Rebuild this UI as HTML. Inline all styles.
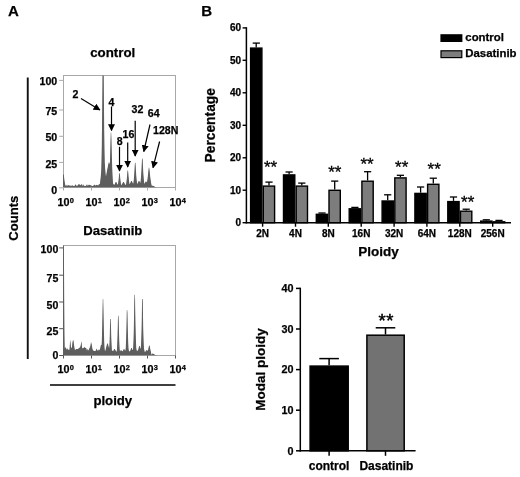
<!DOCTYPE html>
<html><head><meta charset="utf-8"><title>Figure</title>
<style>html,body{margin:0;padding:0;background:#fff}body{width:520px;height:477px;overflow:hidden;font-family:"Liberation Sans",sans-serif}svg{display:block;filter:grayscale(1)}</style></head>
<body>
<svg width="520" height="477" viewBox="0 0 520 477">
<defs><marker id="ah" viewBox="0 0 10 10" refX="9" refY="5" markerWidth="7" markerHeight="7" markerUnits="userSpaceOnUse" orient="auto"><path d="M0,0 L10,5 L0,10 Z" fill="#000"/></marker></defs>
<rect width="520" height="477" fill="#fff"/>
<g font-family="Liberation Sans, sans-serif" font-weight="bold" stroke="#000" stroke-width="0.25" fill="#000">
<text x="8" y="15.7" font-size="15">A</text>
<text x="201.2" y="15.8" font-size="15">B</text>
<text x="112.7" y="57.1" font-size="13.3" text-anchor="middle">control</text>
<text x="112.8" y="235.1" font-size="13.1" text-anchor="middle">Dasatinib</text>
<text x="112.8" y="405.4" font-size="13.2" text-anchor="middle">ploidy</text>
<text transform="translate(18.2,218.2) rotate(-90)" font-size="13.1" text-anchor="middle">Counts</text>
</g>
<rect x="26.8" y="77.5" width="1.9" height="281.5" fill="#111"/>
<rect x="50" y="384.2" width="125.5" height="1.6" fill="#111"/>
<rect x="63.5" y="75.5" width="112" height="112.0" fill="#fff" stroke="#a8a8a8" stroke-width="1"/>
<clipPath id="c75"><rect x="63" y="75.5" width="112.5" height="112.0"/></clipPath>
<path d="M63.0,187.5 L63.0,174.5 L63.2,174.5 L63.5,174.5 L63.8,174.5 L64.0,176.2 L64.2,178.4 L64.5,180.6 L64.8,182.2 L65.0,183.5 L65.2,184.7 L65.5,185.5 L65.8,185.7 L66.0,185.8 L66.2,185.8 L66.5,185.4 L66.8,185.0 L67.0,184.6 L67.2,185.1 L67.5,185.5 L67.8,186.0 L68.0,185.8 L68.2,185.4 L68.5,185.1 L68.8,185.0 L69.0,185.1 L69.2,185.3 L69.5,185.4 L69.8,185.7 L70.0,185.9 L70.2,186.1 L70.5,185.7 L70.8,185.3 L71.0,185.0 L71.2,185.4 L71.5,185.7 L71.8,186.1 L72.0,185.9 L72.2,185.6 L72.5,185.3 L72.8,185.3 L73.0,185.6 L73.2,185.9 L73.5,186.1 L73.8,186.1 L74.0,186.1 L74.2,186.0 L74.5,185.7 L74.8,185.5 L75.0,185.2 L75.2,184.9 L75.5,184.5 L75.8,184.2 L76.0,184.6 L76.2,185.2 L76.5,185.7 L76.8,185.9 L77.0,185.8 L77.2,185.8 L77.5,185.6 L77.8,185.3 L78.0,184.9 L78.2,184.6 L78.5,184.4 L78.8,184.1 L79.0,183.8 L79.2,184.1 L79.5,184.4 L79.8,184.7 L80.0,184.9 L80.2,185.1 L80.5,185.2 L80.8,185.0 L81.0,184.5 L81.2,184.0 L81.5,184.1 L81.8,184.8 L82.0,185.6 L82.2,186.0 L82.5,185.4 L82.8,184.7 L83.0,184.1 L83.2,184.5 L83.5,185.0 L83.8,185.5 L84.0,185.6 L84.2,185.8 L84.5,185.9 L84.8,185.9 L85.0,186.0 L85.2,186.0 L85.5,185.9 L85.8,185.8 L86.0,185.6 L86.2,185.4 L86.5,185.0 L86.8,184.6 L87.0,184.2 L87.2,184.7 L87.5,185.2 L87.8,185.7 L88.0,185.6 L88.2,185.2 L88.5,184.9 L88.8,184.8 L89.0,184.7 L89.2,184.7 L89.5,184.7 L89.8,184.9 L90.0,185.2 L90.2,185.3 L90.5,185.2 L90.8,185.0 L91.0,184.9 L91.2,185.3 L91.5,185.7 L91.8,186.1 L92.0,186.1 L92.2,186.1 L92.5,186.1 L92.8,186.1 L93.0,186.0 L93.2,185.8 L93.5,185.6 L93.8,185.2 L94.0,184.8 L94.2,184.6 L94.5,184.8 L94.8,185.0 L95.0,185.2 L95.2,185.3 L95.5,185.4 L95.8,185.5 L96.0,185.3 L96.2,185.1 L96.5,184.9 L96.8,184.8 L97.0,184.9 L97.2,185.1 L97.5,185.2 L97.8,185.3 L98.0,185.4 L98.2,185.4 L98.5,185.0 L98.8,184.5 L99.0,184.0 L99.2,184.1 L99.5,184.2 L99.8,184.2 L100.0,183.1 L100.2,181.0 L100.5,178.7 L100.8,176.2 L101.0,173.4 L101.2,169.4 L101.5,159.4 L101.8,145.6 L102.0,126.9 L102.2,102.3 L102.5,70.5 L102.8,30.0 L103.0,30.0 L103.2,30.0 L103.5,38.9 L103.8,77.5 L104.0,107.7 L104.2,131.1 L104.5,148.7 L104.8,161.7 L105.0,166.0 L105.2,169.2 L105.5,172.2 L105.8,175.1 L106.0,176.5 L106.2,175.0 L106.5,173.5 L106.8,172.1 L107.0,170.8 L107.2,169.5 L107.5,168.2 L107.8,166.9 L108.0,165.7 L108.2,164.5 L108.5,163.3 L108.8,162.6 L109.0,162.6 L109.2,162.6 L109.5,163.3 L109.8,164.5 L110.0,159.9 L110.2,150.7 L110.5,139.8 L110.8,132.5 L111.0,132.5 L111.2,132.5 L111.5,139.8 L111.8,150.7 L112.0,159.9 L112.2,167.7 L112.5,174.0 L112.8,178.9 L113.0,182.6 L113.2,184.0 L113.5,184.0 L113.8,184.4 L114.0,184.7 L114.2,185.0 L114.5,184.5 L114.8,184.0 L115.0,183.4 L115.2,182.9 L115.5,182.3 L115.8,182.0 L116.0,182.0 L116.2,182.0 L116.5,182.3 L116.8,182.9 L117.0,183.4 L117.2,184.0 L117.5,184.5 L117.8,184.4 L118.0,184.0 L118.2,182.3 L118.5,180.3 L118.8,177.9 L119.0,175.1 L119.2,173.2 L119.5,173.2 L119.8,173.2 L120.0,175.1 L120.2,177.9 L120.5,180.3 L120.8,182.3 L121.0,184.0 L121.2,185.3 L121.5,185.0 L121.8,184.6 L122.0,184.1 L122.2,183.7 L122.5,183.2 L122.8,182.7 L123.0,182.3 L123.2,182.0 L123.5,182.0 L123.8,182.0 L124.0,182.3 L124.2,182.7 L124.5,183.2 L124.8,183.7 L125.0,184.1 L125.2,184.6 L125.5,185.0 L125.8,185.0 L126.0,184.4 L126.2,183.0 L126.5,181.2 L126.8,179.0 L127.0,176.4 L127.2,173.3 L127.5,170.5 L127.8,170.5 L128.0,170.5 L128.2,171.9 L128.5,175.2 L128.8,178.0 L129.0,180.4 L129.2,182.3 L129.5,183.9 L129.8,184.0 L130.0,183.5 L130.2,182.9 L130.5,182.4 L130.8,181.9 L131.0,181.3 L131.2,181.0 L131.5,181.0 L131.8,181.0 L132.0,181.3 L132.2,181.9 L132.5,182.4 L132.8,182.9 L133.0,183.5 L133.2,183.8 L133.5,182.1 L133.8,179.8 L134.0,177.0 L134.2,173.6 L134.5,169.6 L134.8,164.8 L135.0,162.7 L135.2,162.7 L135.5,162.7 L135.8,166.8 L136.0,171.3 L136.2,175.1 L136.5,178.2 L136.8,180.8 L137.0,182.8 L137.2,184.0 L137.5,183.5 L137.8,182.9 L138.0,182.4 L138.2,181.9 L138.5,181.3 L138.8,181.0 L139.0,181.0 L139.2,181.0 L139.5,181.3 L139.8,181.9 L140.0,182.4 L140.2,182.9 L140.5,181.9 L140.8,179.6 L141.0,176.6 L141.2,173.0 L141.5,168.6 L141.8,163.3 L142.0,158.5 L142.2,158.5 L142.5,158.5 L142.8,161.0 L143.0,166.6 L143.2,171.3 L143.5,175.3 L143.8,178.5 L144.0,181.1 L144.2,183.1 L144.5,183.8 L144.8,183.3 L145.0,182.8 L145.2,182.3 L145.5,181.8 L145.8,181.5 L146.0,181.5 L146.2,181.5 L146.5,181.8 L146.8,182.3 L147.0,182.3 L147.2,180.6 L147.5,178.8 L147.8,176.8 L148.0,174.5 L148.2,172.1 L148.5,169.4 L148.8,167.7 L149.0,167.7 L149.2,167.7 L149.5,169.4 L149.8,172.1 L150.0,174.5 L150.2,176.8 L150.5,178.8 L150.8,180.6 L151.0,182.3 L151.2,183.6 L151.5,184.8 L151.8,185.7 L152.0,185.8 L152.2,185.8 L152.5,185.8 L152.8,185.8 L153.0,185.8 L153.2,185.8 L153.5,185.9 L153.8,186.1 L154.0,186.3 L154.2,186.4 L154.5,186.6 L154.8,186.7 L155.0,186.9 L155.2,187.0 L155.5,187.1 L155.8,187.2 L156.0,187.3 L156.0,187.5 Z" fill="#5e5e5e" clip-path="url(#c75)"/>
<line x1="59.2" x2="63.5" y1="187.8" y2="187.8" stroke="#aaa" stroke-width="1"/>
<text x="57.2" y="193.6" font-size="10.6" text-anchor="end" font-family="Liberation Sans, sans-serif" font-weight="bold" stroke="#000" stroke-width="0.25">0</text>
<line x1="59.2" x2="63.5" y1="162.4" y2="162.4" stroke="#aaa" stroke-width="1"/>
<text x="57.2" y="167.5" font-size="10.6" text-anchor="end" font-family="Liberation Sans, sans-serif" font-weight="bold" stroke="#000" stroke-width="0.25">25</text>
<line x1="59.2" x2="63.5" y1="136.3" y2="136.3" stroke="#aaa" stroke-width="1"/>
<text x="57.2" y="141.2" font-size="10.6" text-anchor="end" font-family="Liberation Sans, sans-serif" font-weight="bold" stroke="#000" stroke-width="0.25">50</text>
<line x1="59.2" x2="63.5" y1="110.0" y2="110.0" stroke="#aaa" stroke-width="1"/>
<text x="57.2" y="114.7" font-size="10.6" text-anchor="end" font-family="Liberation Sans, sans-serif" font-weight="bold" stroke="#000" stroke-width="0.25">75</text>
<line x1="59.2" x2="63.5" y1="80.4" y2="80.4" stroke="#aaa" stroke-width="1"/>
<text x="57.2" y="85.4" font-size="10.6" text-anchor="end" font-family="Liberation Sans, sans-serif" font-weight="bold" stroke="#000" stroke-width="0.25">100</text>
<line x1="63.5" x2="63.5" y1="187.5" y2="190.5" stroke="#aaa" stroke-width="1"/>
<text x="57.4" y="206.0" font-size="10.8" font-family="Liberation Sans, sans-serif" font-weight="bold" stroke="#000" stroke-width="0.25">10<tspan font-size="7.4" dy="-3.1" dx="0.4">0</tspan></text>
<line x1="91.5" x2="91.5" y1="187.5" y2="190.5" stroke="#aaa" stroke-width="1"/>
<text x="85.4" y="206.0" font-size="10.8" font-family="Liberation Sans, sans-serif" font-weight="bold" stroke="#000" stroke-width="0.25">10<tspan font-size="7.4" dy="-3.1" dx="0.4">1</tspan></text>
<line x1="119.5" x2="119.5" y1="187.5" y2="190.5" stroke="#aaa" stroke-width="1"/>
<text x="113.4" y="206.0" font-size="10.8" font-family="Liberation Sans, sans-serif" font-weight="bold" stroke="#000" stroke-width="0.25">10<tspan font-size="7.4" dy="-3.1" dx="0.4">2</tspan></text>
<line x1="147.5" x2="147.5" y1="187.5" y2="190.5" stroke="#aaa" stroke-width="1"/>
<text x="141.4" y="206.0" font-size="10.8" font-family="Liberation Sans, sans-serif" font-weight="bold" stroke="#000" stroke-width="0.25">10<tspan font-size="7.4" dy="-3.1" dx="0.4">3</tspan></text>
<line x1="175.5" x2="175.5" y1="187.5" y2="190.5" stroke="#aaa" stroke-width="1"/>
<text x="169.4" y="206.0" font-size="10.8" font-family="Liberation Sans, sans-serif" font-weight="bold" stroke="#000" stroke-width="0.25">10<tspan font-size="7.4" dy="-3.1" dx="0.4">4</tspan></text>
<rect x="63.5" y="245.5" width="112" height="110.0" fill="#fff" stroke="#a8a8a8" stroke-width="1"/>
<clipPath id="c245"><rect x="63" y="245.5" width="112.5" height="110.0"/></clipPath>
<path d="M63.0,355.5 L63.0,235.5 L63.2,235.5 L63.5,235.5 L63.8,235.5 L64.0,263.8 L64.2,299.2 L64.5,334.5 L64.8,348.4 L65.0,347.8 L65.2,347.3 L65.5,347.2 L65.8,347.7 L66.0,348.1 L66.2,348.6 L66.5,349.0 L66.8,349.4 L67.0,349.7 L67.2,349.2 L67.5,348.8 L67.8,348.3 L68.0,348.7 L68.2,349.3 L68.5,349.9 L68.8,350.1 L69.0,350.1 L69.2,350.2 L69.5,348.8 L69.8,345.3 L70.0,341.8 L70.2,339.5 L70.5,342.0 L70.8,344.6 L71.0,347.1 L71.2,347.4 L71.5,347.8 L71.8,348.2 L72.0,346.5 L72.2,344.2 L72.5,341.9 L72.8,340.8 L73.0,340.4 L73.2,340.0 L73.5,340.5 L73.8,342.5 L74.0,344.4 L74.2,346.3 L74.5,347.7 L74.8,349.1 L75.0,350.6 L75.2,350.1 L75.5,349.7 L75.8,349.3 L76.0,349.1 L76.2,349.0 L76.5,349.0 L76.8,349.0 L77.0,349.0 L77.2,349.0 L77.5,349.1 L77.8,349.1 L78.0,349.2 L78.2,349.1 L78.5,348.5 L78.8,348.0 L79.0,347.4 L79.2,347.6 L79.5,347.8 L79.8,348.0 L80.0,347.4 L80.2,346.8 L80.5,346.1 L80.8,344.9 L81.0,343.3 L81.2,341.8 L81.5,341.8 L81.8,344.2 L82.0,346.5 L82.2,348.3 L82.5,348.3 L82.8,348.2 L83.0,348.1 L83.2,348.0 L83.5,347.9 L83.8,347.8 L84.0,347.6 L84.2,347.3 L84.5,347.1 L84.8,347.2 L85.0,347.5 L85.2,347.8 L85.5,348.0 L85.8,348.0 L86.0,347.9 L86.2,348.1 L86.5,349.0 L86.8,349.9 L87.0,350.8 L87.2,350.1 L87.5,349.4 L87.8,348.7 L88.0,349.1 L88.2,349.8 L88.5,350.5 L88.8,350.3 L89.0,349.4 L89.2,348.6 L89.5,347.9 L89.8,347.5 L90.0,347.1 L90.2,346.5 L90.5,344.9 L90.8,343.4 L91.0,341.8 L91.2,342.7 L91.5,343.6 L91.8,344.5 L92.0,345.9 L92.2,347.4 L92.5,348.9 L92.8,349.7 L93.0,350.1 L93.2,350.4 L93.5,350.7 L93.8,350.7 L94.0,350.8 L94.2,350.9 L94.5,350.9 L94.8,350.9 L95.0,350.9 L95.2,350.9 L95.5,350.8 L95.8,350.7 L96.0,350.1 L96.2,349.4 L96.5,348.7 L96.8,348.8 L97.0,349.5 L97.2,350.1 L97.5,350.5 L97.8,350.6 L98.0,350.7 L98.2,350.6 L98.5,350.1 L98.8,349.5 L99.0,348.9 L99.2,349.6 L99.5,350.3 L99.8,350.2 L100.0,349.1 L100.2,347.9 L100.5,346.7 L100.8,345.5 L101.0,345.0 L101.2,345.0 L101.5,345.0 L101.8,341.9 L102.0,334.2 L102.2,323.6 L102.5,309.5 L102.8,299.0 L103.0,299.0 L103.2,299.0 L103.5,309.5 L103.8,323.6 L104.0,334.2 L104.2,341.9 L104.5,347.3 L104.8,349.7 L105.0,350.9 L105.2,351.1 L105.5,350.1 L105.8,349.1 L106.0,348.1 L106.2,347.1 L106.5,346.1 L106.8,345.1 L107.0,344.1 L107.2,343.5 L107.5,343.5 L107.8,343.5 L108.0,344.1 L108.2,345.1 L108.5,346.1 L108.8,347.1 L109.0,348.1 L109.2,347.6 L109.5,342.5 L109.8,335.5 L110.0,326.0 L110.2,319.0 L110.5,319.0 L110.8,319.0 L111.0,326.0 L111.2,335.5 L111.5,342.5 L111.8,347.6 L112.0,350.9 L112.2,350.7 L112.5,350.5 L112.8,350.7 L113.0,351.2 L113.2,350.9 L113.5,350.4 L113.8,349.9 L114.0,349.3 L114.2,349.0 L114.5,349.0 L114.8,349.0 L115.0,349.3 L115.2,349.9 L115.5,350.4 L115.8,350.5 L116.0,350.9 L116.2,351.3 L116.5,351.8 L116.8,351.2 L117.0,347.8 L117.2,342.7 L117.5,335.5 L117.8,325.7 L118.0,315.8 L118.2,315.8 L118.5,315.8 L118.8,321.0 L119.0,331.9 L119.2,340.1 L119.5,346.0 L119.8,350.0 L120.0,351.6 L120.2,351.0 L120.5,350.4 L120.8,350.2 L121.0,350.3 L121.2,350.3 L121.5,350.4 L121.8,350.6 L122.0,350.9 L122.2,351.1 L122.5,351.2 L122.8,351.3 L123.0,350.7 L123.2,350.0 L123.5,349.4 L123.8,349.0 L124.0,349.0 L124.2,349.0 L124.5,349.4 L124.8,350.0 L125.0,350.7 L125.2,350.6 L125.5,350.0 L125.8,347.0 L126.0,341.6 L126.2,334.0 L126.5,323.6 L126.8,310.0 L127.0,310.0 L127.2,310.0 L127.5,313.0 L127.8,325.9 L128.0,335.7 L128.2,342.8 L128.5,347.9 L128.8,350.2 L129.0,350.8 L129.2,350.9 L129.5,351.2 L129.8,351.4 L130.0,351.4 L130.2,350.7 L130.5,349.9 L130.8,349.2 L131.0,348.4 L131.2,348.0 L131.5,348.0 L131.8,348.0 L132.0,348.4 L132.2,349.2 L132.5,349.9 L132.8,350.1 L133.0,349.0 L133.2,345.7 L133.5,339.5 L133.8,330.6 L134.0,318.5 L134.2,302.5 L134.5,294.8 L134.8,294.8 L135.0,294.8 L135.2,309.4 L135.5,323.8 L135.8,334.5 L136.0,342.3 L136.2,347.6 L136.5,349.5 L136.8,350.6 L137.0,351.1 L137.2,350.5 L137.5,350.5 L137.8,351.0 L138.0,350.4 L138.2,349.4 L138.5,348.5 L138.8,347.5 L139.0,346.6 L139.2,346.0 L139.5,346.0 L139.8,346.0 L140.0,346.6 L140.2,347.5 L140.5,348.5 L140.8,348.8 L141.0,345.4 L141.2,339.2 L141.5,330.4 L141.8,318.4 L142.0,302.7 L142.2,299.0 L142.5,299.0 L142.8,299.0 L143.0,315.6 L143.2,328.3 L143.5,337.6 L143.8,344.3 L144.0,348.6 L144.2,349.7 L144.5,350.8 L144.8,351.9 L145.0,351.9 L145.2,351.8 L145.5,351.5 L145.8,351.1 L146.0,350.6 L146.2,350.3 L146.5,350.2 L146.8,350.2 L147.0,350.1 L147.2,350.3 L147.5,350.6 L147.8,350.9 L148.0,350.5 L148.2,349.2 L148.5,348.0 L148.8,346.7 L149.0,345.6 L149.2,345.6 L149.5,345.6 L149.8,346.1 L150.0,347.5 L150.2,348.7 L150.5,350.0 L150.8,351.2 L151.0,352.3 L151.2,353.4 L151.5,354.4 L151.8,354.5 L152.0,354.2 L152.2,353.8 L152.5,353.4 L152.8,353.4 L153.0,353.6 L153.2,353.8 L153.5,354.0 L153.8,354.0 L154.0,354.0 L154.2,354.1 L154.5,354.4 L154.8,354.8 L155.0,355.1 L155.2,355.1 L155.5,355.1 L155.8,355.0 L156.0,355.1 L156.2,355.1 L156.5,355.2 L156.8,355.3 L157.0,355.4 L157.0,355.5 Z" fill="#5e5e5e" clip-path="url(#c245)"/>
<line x1="59.2" x2="63.5" y1="355.5" y2="355.5" stroke="#555" stroke-width="1"/>
<text x="58.3" y="359.0" font-size="10.6" text-anchor="end" font-family="Liberation Sans, sans-serif" font-weight="bold" stroke="#000" stroke-width="0.25">0</text>
<line x1="59.2" x2="63.5" y1="328.7" y2="328.7" stroke="#555" stroke-width="1"/>
<text x="58.3" y="335.4" font-size="10.6" text-anchor="end" font-family="Liberation Sans, sans-serif" font-weight="bold" stroke="#000" stroke-width="0.25">25</text>
<line x1="59.2" x2="63.5" y1="302.0" y2="302.0" stroke="#555" stroke-width="1"/>
<text x="58.3" y="308.6" font-size="10.6" text-anchor="end" font-family="Liberation Sans, sans-serif" font-weight="bold" stroke="#000" stroke-width="0.25">50</text>
<line x1="59.2" x2="63.5" y1="275.2" y2="275.2" stroke="#555" stroke-width="1"/>
<text x="58.3" y="282.3" font-size="10.6" text-anchor="end" font-family="Liberation Sans, sans-serif" font-weight="bold" stroke="#000" stroke-width="0.25">75</text>
<line x1="59.2" x2="63.5" y1="247.9" y2="247.9" stroke="#555" stroke-width="1"/>
<text x="58.3" y="253.4" font-size="10.6" text-anchor="end" font-family="Liberation Sans, sans-serif" font-weight="bold" stroke="#000" stroke-width="0.25">100</text>
<line x1="63.5" x2="63.5" y1="355.5" y2="358.5" stroke="#555" stroke-width="1"/>
<text x="57.4" y="373.4" font-size="10.8" font-family="Liberation Sans, sans-serif" font-weight="bold" stroke="#000" stroke-width="0.25">10<tspan font-size="7.4" dy="-3.1" dx="0.4">0</tspan></text>
<line x1="91.5" x2="91.5" y1="355.5" y2="358.5" stroke="#555" stroke-width="1"/>
<text x="85.4" y="373.4" font-size="10.8" font-family="Liberation Sans, sans-serif" font-weight="bold" stroke="#000" stroke-width="0.25">10<tspan font-size="7.4" dy="-3.1" dx="0.4">1</tspan></text>
<line x1="119.5" x2="119.5" y1="355.5" y2="358.5" stroke="#555" stroke-width="1"/>
<text x="113.4" y="373.4" font-size="10.8" font-family="Liberation Sans, sans-serif" font-weight="bold" stroke="#000" stroke-width="0.25">10<tspan font-size="7.4" dy="-3.1" dx="0.4">2</tspan></text>
<line x1="147.5" x2="147.5" y1="355.5" y2="358.5" stroke="#555" stroke-width="1"/>
<text x="141.4" y="373.4" font-size="10.8" font-family="Liberation Sans, sans-serif" font-weight="bold" stroke="#000" stroke-width="0.25">10<tspan font-size="7.4" dy="-3.1" dx="0.4">3</tspan></text>
<line x1="175.5" x2="175.5" y1="355.5" y2="358.5" stroke="#555" stroke-width="1"/>
<text x="169.4" y="373.4" font-size="10.8" font-family="Liberation Sans, sans-serif" font-weight="bold" stroke="#000" stroke-width="0.25">10<tspan font-size="7.4" dy="-3.1" dx="0.4">4</tspan></text>
<text x="72.6" y="98.1" font-size="10.6" font-family="Liberation Sans, sans-serif" font-weight="bold" stroke="#000" stroke-width="0.25">2</text>
<line x1="81" y1="98.5" x2="99.9" y2="110" stroke="#000" stroke-width="1.2" marker-end="url(#ah)"/>
<text x="108.4" y="105.5" font-size="10.6" font-family="Liberation Sans, sans-serif" font-weight="bold" stroke="#000" stroke-width="0.25">4</text>
<line x1="111.5" y1="106.5" x2="111.5" y2="130.5" stroke="#000" stroke-width="1.2" marker-end="url(#ah)"/>
<text x="116.8" y="144.5" font-size="10.6" font-family="Liberation Sans, sans-serif" font-weight="bold" stroke="#000" stroke-width="0.25">8</text>
<line x1="119.5" y1="146.8" x2="119.5" y2="171" stroke="#000" stroke-width="1.2" marker-end="url(#ah)"/>
<text x="122.5" y="138.2" font-size="10.6" font-family="Liberation Sans, sans-serif" font-weight="bold" stroke="#000" stroke-width="0.25">16</text>
<line x1="127.7" y1="142.6" x2="127.7" y2="167" stroke="#000" stroke-width="1.2" marker-end="url(#ah)"/>
<text x="131.5" y="112.9" font-size="10.6" font-family="Liberation Sans, sans-serif" font-weight="bold" stroke="#000" stroke-width="0.25">32</text>
<line x1="135.2" y1="120.8" x2="135.2" y2="156" stroke="#000" stroke-width="1.2" marker-end="url(#ah)"/>
<text x="147.8" y="117.1" font-size="10.6" font-family="Liberation Sans, sans-serif" font-weight="bold" stroke="#000" stroke-width="0.25">64</text>
<line x1="150" y1="124.5" x2="143.8" y2="151.5" stroke="#000" stroke-width="1.2" marker-end="url(#ah)"/>
<text x="153" y="133.9" font-size="10.6" font-family="Liberation Sans, sans-serif" font-weight="bold" stroke="#000" stroke-width="0.25">128N</text>
<line x1="159.6" y1="141.5" x2="153" y2="167.7" stroke="#000" stroke-width="1.2" marker-end="url(#ah)"/>
<g font-family="Liberation Sans, sans-serif" font-weight="bold" stroke="#000" stroke-width="0.25" fill="#000" font-size="10">
<line x1="242.6" x2="246.4" y1="222.7" y2="222.7" stroke="#000" stroke-width="1.4"/>
<text x="241.1" y="226.1" text-anchor="end">0</text>
<line x1="242.6" x2="246.4" y1="190.2" y2="190.2" stroke="#000" stroke-width="1.4"/>
<text x="241.1" y="193.6" text-anchor="end">10</text>
<line x1="242.6" x2="246.4" y1="157.8" y2="157.8" stroke="#000" stroke-width="1.4"/>
<text x="241.1" y="161.2" text-anchor="end">20</text>
<line x1="242.6" x2="246.4" y1="125.3" y2="125.3" stroke="#000" stroke-width="1.4"/>
<text x="241.1" y="128.7" text-anchor="end">30</text>
<line x1="242.6" x2="246.4" y1="92.8" y2="92.8" stroke="#000" stroke-width="1.4"/>
<text x="241.1" y="96.2" text-anchor="end">40</text>
<line x1="242.6" x2="246.4" y1="60.3" y2="60.3" stroke="#000" stroke-width="1.4"/>
<text x="241.1" y="63.7" text-anchor="end">50</text>
<line x1="242.6" x2="246.4" y1="27.9" y2="27.9" stroke="#000" stroke-width="1.4"/>
<text x="241.1" y="31.3" text-anchor="end">60</text>
</g>
<line x1="246.4" x2="246.4" y1="27.2" y2="223.39999999999998" stroke="#000" stroke-width="1.5"/>
<line x1="245.70000000000002" x2="511" y1="222.7" y2="222.7" stroke="#000" stroke-width="1.5"/>
<line x1="256.2" x2="256.2" y1="43.1" y2="47.4" stroke="#000" stroke-width="1.3"/>
<line x1="252.7" x2="259.9" y1="43.1" y2="43.1" stroke="#000" stroke-width="1.3"/>
<rect x="250.6" y="48.1" width="11.3" height="174.6" fill="#000" stroke="#000" stroke-width="1.4"/>
<line x1="269.0" x2="269.0" y1="182.1" y2="185.4" stroke="#000" stroke-width="1.3"/>
<line x1="265.4" x2="272.6" y1="182.1" y2="182.1" stroke="#000" stroke-width="1.3"/>
<rect x="263.3" y="186.1" width="11.3" height="36.6" fill="#7d7d7d" stroke="#000" stroke-width="1.4"/>
<line x1="262.6" x2="262.6" y1="222.7" y2="226.7" stroke="#000" stroke-width="1.4"/>
<text x="262.6" y="237" font-size="10" text-anchor="middle" font-family="Liberation Sans, sans-serif" font-weight="bold" stroke="#000" stroke-width="0.25">2N</text>
<text x="270.6" y="172.8" font-size="17" text-anchor="middle" font-family="Liberation Sans, sans-serif" stroke="#000" stroke-width="0.3">**</text>
<line x1="289.1" x2="289.1" y1="172.0" y2="174.2" stroke="#000" stroke-width="1.3"/>
<line x1="285.5" x2="292.7" y1="172.0" y2="172.0" stroke="#000" stroke-width="1.3"/>
<rect x="283.5" y="174.9" width="11.3" height="47.8" fill="#000" stroke="#000" stroke-width="1.4"/>
<line x1="301.8" x2="301.8" y1="183.1" y2="185.4" stroke="#000" stroke-width="1.3"/>
<line x1="298.2" x2="305.4" y1="183.1" y2="183.1" stroke="#000" stroke-width="1.3"/>
<rect x="296.2" y="186.1" width="11.3" height="36.6" fill="#7d7d7d" stroke="#000" stroke-width="1.4"/>
<line x1="295.5" x2="295.5" y1="222.7" y2="226.7" stroke="#000" stroke-width="1.4"/>
<text x="295.5" y="237" font-size="10" text-anchor="middle" font-family="Liberation Sans, sans-serif" font-weight="bold" stroke="#000" stroke-width="0.25">4N</text>
<line x1="322.0" x2="322.0" y1="213.0" y2="213.6" stroke="#000" stroke-width="1.3"/>
<line x1="318.4" x2="325.6" y1="213.0" y2="213.0" stroke="#000" stroke-width="1.3"/>
<rect x="316.3" y="214.3" width="11.3" height="8.4" fill="#000" stroke="#000" stroke-width="1.4"/>
<line x1="334.7" x2="334.7" y1="181.1" y2="189.6" stroke="#000" stroke-width="1.3"/>
<line x1="331.1" x2="338.3" y1="181.1" y2="181.1" stroke="#000" stroke-width="1.3"/>
<rect x="329.0" y="190.3" width="11.3" height="32.4" fill="#7d7d7d" stroke="#000" stroke-width="1.4"/>
<line x1="328.3" x2="328.3" y1="222.7" y2="226.7" stroke="#000" stroke-width="1.4"/>
<text x="328.3" y="237" font-size="10" text-anchor="middle" font-family="Liberation Sans, sans-serif" font-weight="bold" stroke="#000" stroke-width="0.25">8N</text>
<text x="334.8" y="178.3" font-size="17" text-anchor="middle" font-family="Liberation Sans, sans-serif" stroke="#000" stroke-width="0.3">**</text>
<line x1="354.9" x2="354.9" y1="207.4" y2="208.1" stroke="#000" stroke-width="1.3"/>
<line x1="351.3" x2="358.5" y1="207.4" y2="207.4" stroke="#000" stroke-width="1.3"/>
<rect x="349.2" y="208.8" width="11.3" height="13.9" fill="#000" stroke="#000" stroke-width="1.4"/>
<line x1="367.6" x2="367.6" y1="171.7" y2="180.5" stroke="#000" stroke-width="1.3"/>
<line x1="364.0" x2="371.2" y1="171.7" y2="171.7" stroke="#000" stroke-width="1.3"/>
<rect x="361.9" y="181.2" width="11.3" height="41.5" fill="#7d7d7d" stroke="#000" stroke-width="1.4"/>
<line x1="361.2" x2="361.2" y1="222.7" y2="226.7" stroke="#000" stroke-width="1.4"/>
<text x="361.2" y="237" font-size="10" text-anchor="middle" font-family="Liberation Sans, sans-serif" font-weight="bold" stroke="#000" stroke-width="0.25">16N</text>
<text x="367.1" y="169.6" font-size="17" text-anchor="middle" font-family="Liberation Sans, sans-serif" stroke="#000" stroke-width="0.3">**</text>
<line x1="387.7" x2="387.7" y1="194.8" y2="200.3" stroke="#000" stroke-width="1.3"/>
<line x1="384.1" x2="391.3" y1="194.8" y2="194.8" stroke="#000" stroke-width="1.3"/>
<rect x="382.1" y="201.0" width="11.3" height="21.7" fill="#000" stroke="#000" stroke-width="1.4"/>
<line x1="400.4" x2="400.4" y1="175.3" y2="177.2" stroke="#000" stroke-width="1.3"/>
<line x1="396.8" x2="404.0" y1="175.3" y2="175.3" stroke="#000" stroke-width="1.3"/>
<rect x="394.8" y="177.9" width="11.3" height="44.8" fill="#7d7d7d" stroke="#000" stroke-width="1.4"/>
<line x1="394.1" x2="394.1" y1="222.7" y2="226.7" stroke="#000" stroke-width="1.4"/>
<text x="394.1" y="237" font-size="10" text-anchor="middle" font-family="Liberation Sans, sans-serif" font-weight="bold" stroke="#000" stroke-width="0.25">32N</text>
<text x="401.7" y="172.5" font-size="17" text-anchor="middle" font-family="Liberation Sans, sans-serif" stroke="#000" stroke-width="0.3">**</text>
<line x1="420.6" x2="420.6" y1="187.0" y2="192.7" stroke="#000" stroke-width="1.3"/>
<line x1="417.0" x2="424.2" y1="187.0" y2="187.0" stroke="#000" stroke-width="1.3"/>
<rect x="414.9" y="193.4" width="11.3" height="29.3" fill="#000" stroke="#000" stroke-width="1.4"/>
<line x1="433.3" x2="433.3" y1="178.2" y2="183.6" stroke="#000" stroke-width="1.3"/>
<line x1="429.7" x2="436.9" y1="178.2" y2="178.2" stroke="#000" stroke-width="1.3"/>
<rect x="427.6" y="184.3" width="11.3" height="38.4" fill="#7d7d7d" stroke="#000" stroke-width="1.4"/>
<line x1="426.9" x2="426.9" y1="222.7" y2="226.7" stroke="#000" stroke-width="1.4"/>
<text x="426.9" y="237" font-size="10" text-anchor="middle" font-family="Liberation Sans, sans-serif" font-weight="bold" stroke="#000" stroke-width="0.25">64N</text>
<text x="434.2" y="174.7" font-size="17" text-anchor="middle" font-family="Liberation Sans, sans-serif" stroke="#000" stroke-width="0.3">**</text>
<line x1="453.5" x2="453.5" y1="197.0" y2="200.9" stroke="#000" stroke-width="1.3"/>
<line x1="449.9" x2="457.1" y1="197.0" y2="197.0" stroke="#000" stroke-width="1.3"/>
<rect x="447.8" y="201.6" width="11.3" height="21.1" fill="#000" stroke="#000" stroke-width="1.4"/>
<line x1="466.2" x2="466.2" y1="209.2" y2="210.5" stroke="#000" stroke-width="1.3"/>
<line x1="462.6" x2="469.8" y1="209.2" y2="209.2" stroke="#000" stroke-width="1.3"/>
<rect x="460.5" y="211.2" width="11.3" height="11.5" fill="#7d7d7d" stroke="#000" stroke-width="1.4"/>
<line x1="459.8" x2="459.8" y1="222.7" y2="226.7" stroke="#000" stroke-width="1.4"/>
<text x="459.8" y="237" font-size="10" text-anchor="middle" font-family="Liberation Sans, sans-serif" font-weight="bold" stroke="#000" stroke-width="0.25">128N</text>
<text x="467.7" y="208.3" font-size="17" text-anchor="middle" font-family="Liberation Sans, sans-serif" stroke="#000" stroke-width="0.3">**</text>
<line x1="486.3" x2="486.3" y1="219.8" y2="220.4" stroke="#000" stroke-width="1.3"/>
<line x1="482.7" x2="489.9" y1="219.8" y2="219.8" stroke="#000" stroke-width="1.3"/>
<rect x="480.7" y="221.1" width="11.3" height="1.6" fill="#000" stroke="#000" stroke-width="1.4"/>
<line x1="499.0" x2="499.0" y1="220.4" y2="221.1" stroke="#000" stroke-width="1.3"/>
<line x1="495.4" x2="502.6" y1="220.4" y2="220.4" stroke="#000" stroke-width="1.3"/>
<rect x="493.4" y="221.8" width="11.3" height="0.9" fill="#7d7d7d" stroke="#000" stroke-width="1.4"/>
<line x1="492.7" x2="492.7" y1="222.7" y2="226.7" stroke="#000" stroke-width="1.4"/>
<text x="492.7" y="237" font-size="10" text-anchor="middle" font-family="Liberation Sans, sans-serif" font-weight="bold" stroke="#000" stroke-width="0.25">256N</text>
<text x="378.4" y="255.6" font-size="13.5" text-anchor="middle" font-family="Liberation Sans, sans-serif" font-weight="bold" stroke="#000" stroke-width="0.25">Ploidy</text>
<text transform="translate(215.3,125.3) rotate(-90)" font-size="13.8" text-anchor="middle" font-family="Liberation Sans, sans-serif" font-weight="bold" stroke="#000" stroke-width="0.25">Percentage</text>
<rect x="440.4" y="34.2" width="22" height="7.8" fill="#000"/>
<rect x="441" y="50.8" width="20.8" height="6.8" fill="#7d7d7d" stroke="#000" stroke-width="1.2"/>
<text x="465.3" y="41.4" font-size="11.4" font-family="Liberation Sans, sans-serif" font-weight="bold" stroke="#000" stroke-width="0.25">control</text>
<text x="465.3" y="57.4" font-size="11.4" font-family="Liberation Sans, sans-serif" font-weight="bold" stroke="#000" stroke-width="0.25">Dasatinib</text>
<line x1="296" x2="300.3" y1="450.8" y2="450.8" stroke="#000" stroke-width="1.5"/>
<text x="293.5" y="454.6" font-size="10.8" text-anchor="end" font-family="Liberation Sans, sans-serif" font-weight="bold" stroke="#000" stroke-width="0.25">0</text>
<line x1="296" x2="300.3" y1="410.2" y2="410.2" stroke="#000" stroke-width="1.5"/>
<text x="293.5" y="414.0" font-size="10.8" text-anchor="end" font-family="Liberation Sans, sans-serif" font-weight="bold" stroke="#000" stroke-width="0.25">10</text>
<line x1="296" x2="300.3" y1="369.6" y2="369.6" stroke="#000" stroke-width="1.5"/>
<text x="293.5" y="373.4" font-size="10.8" text-anchor="end" font-family="Liberation Sans, sans-serif" font-weight="bold" stroke="#000" stroke-width="0.25">20</text>
<line x1="296" x2="300.3" y1="329.0" y2="329.0" stroke="#000" stroke-width="1.5"/>
<text x="293.5" y="332.8" font-size="10.8" text-anchor="end" font-family="Liberation Sans, sans-serif" font-weight="bold" stroke="#000" stroke-width="0.25">30</text>
<line x1="296" x2="300.3" y1="288.4" y2="288.4" stroke="#000" stroke-width="1.5"/>
<text x="293.5" y="292.2" font-size="10.8" text-anchor="end" font-family="Liberation Sans, sans-serif" font-weight="bold" stroke="#000" stroke-width="0.25">40</text>
<line x1="300.3" x2="300.3" y1="287.7" y2="451.55" stroke="#000" stroke-width="1.5"/>
<line x1="299.6" x2="415.6" y1="450.8" y2="450.8" stroke="#000" stroke-width="1.5"/>
<line x1="329.1" x2="329.1" y1="358.6" y2="365.3" stroke="#000" stroke-width="1.5"/>
<line x1="319.3" x2="338.9" y1="358.6" y2="358.6" stroke="#000" stroke-width="1.5"/>
<rect x="310.1" y="366.1" width="38.1" height="84.7" fill="#000" stroke="#000" stroke-width="1.5"/>
<line x1="329.1" x2="329.1" y1="450.8" y2="455.8" stroke="#000" stroke-width="1.5"/>
<text x="329.1" y="470.3" font-size="12" text-anchor="middle" font-family="Liberation Sans, sans-serif" font-weight="bold" stroke="#000" stroke-width="0.25">control</text>
<line x1="385.5" x2="385.5" y1="327.8" y2="334.5" stroke="#000" stroke-width="1.5"/>
<line x1="375.7" x2="395.3" y1="327.8" y2="327.8" stroke="#000" stroke-width="1.5"/>
<rect x="366.9" y="335.2" width="37.3" height="115.6" fill="#727272" stroke="#000" stroke-width="1.5"/>
<line x1="385.5" x2="385.5" y1="450.8" y2="455.8" stroke="#000" stroke-width="1.5"/>
<text x="386.4" y="470.3" font-size="12" text-anchor="middle" font-family="Liberation Sans, sans-serif" font-weight="bold" stroke="#000" stroke-width="0.25">Dasatinib</text>
<text x="386.2" y="327.4" font-size="18.5" text-anchor="middle" font-family="Liberation Sans, sans-serif" stroke="#000" stroke-width="0.5" letter-spacing="0.5">**</text>
<text transform="translate(264.7,369.6) rotate(-90)" font-size="13.5" text-anchor="middle" font-family="Liberation Sans, sans-serif" font-weight="bold" stroke="#000" stroke-width="0.25">Modal ploidy</text>
</svg>
</body></html>
